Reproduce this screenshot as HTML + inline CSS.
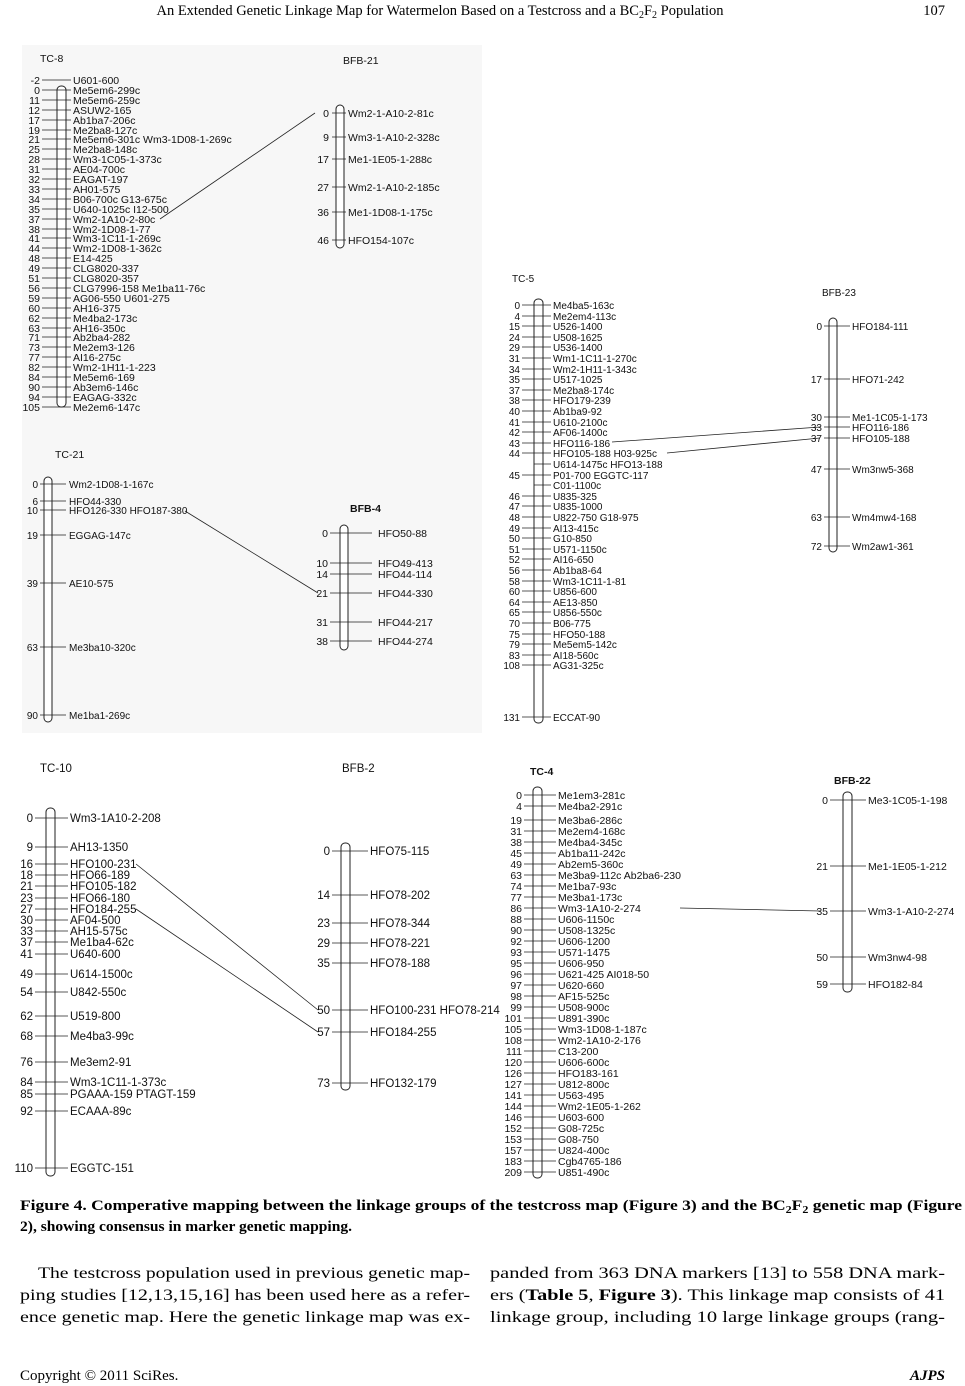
<!DOCTYPE html>
<html><head><meta charset="utf-8"><style>
html,body{margin:0;padding:0;background:#fff}
svg{display:block}
.m text{font-family:"Liberation Sans",Arial,sans-serif;font-size:10.5px;fill:#111}
.m .n{text-anchor:end}
.m path{stroke:#222;stroke-width:0.8;fill:none}
.m rect{fill:#fff;stroke:#222;stroke-width:1}
.big text{font-size:11.5px}
.s text{font-size:10px}
.ser{font-family:"Liberation Serif","Times New Roman",serif;fill:#000}
</style></head><body>
<svg width="965" height="1386" viewBox="0 0 965 1386" xmlns="http://www.w3.org/2000/svg">
<rect x="22" y="45" width="460" height="688" fill="#f7f7f7"/>
<text class="ser" x="440" y="15" font-size="14.5" text-anchor="middle">An Extended Genetic Linkage Map for Watermelon Based on a Testcross and a BC<tspan font-size="10" dy="3">2</tspan><tspan dy="-3">F</tspan><tspan font-size="10" dy="3">2</tspan><tspan dy="-3"> Population</tspan></text>
<text class="ser" x="945" y="15" font-size="14.5" text-anchor="end">107</text>

<!-- TC-8 -->
<g class="m">
<text x="40" y="62">TC-8</text>
<rect x="57" y="86" width="9" height="321" rx="4"/>
<path d="M42 80H71M42 90H71M42 100H71M42 110H71M42 120H71M42 130H71M42 139H71M42 149H71M42 159H71M42 169H71M42 179H71M42 189H71M42 199H71M42 209H71M42 219H71M42 229H71M42 238H71M42 248H71M42 258H71M42 268H71M42 278H71M42 288H71M42 298H71M42 308H71M42 318H71M42 328H71M42 337H71M42 347H71M42 357H71M42 367H71M42 377H71M42 387H71M42 397H71M42 407H71"/>
<g class="n"><text x="40" y="84">-2</text><text x="40" y="94">0</text><text x="40" y="104">11</text><text x="40" y="114">12</text><text x="40" y="124">17</text><text x="40" y="134">19</text><text x="40" y="143">21</text><text x="40" y="153">25</text><text x="40" y="163">28</text><text x="40" y="173">31</text><text x="40" y="183">32</text><text x="40" y="193">33</text><text x="40" y="203">34</text><text x="40" y="213">35</text><text x="40" y="223">37</text><text x="40" y="233">38</text><text x="40" y="242">41</text><text x="40" y="252">44</text><text x="40" y="262">48</text><text x="40" y="272">49</text><text x="40" y="282">51</text><text x="40" y="292">56</text><text x="40" y="302">59</text><text x="40" y="312">60</text><text x="40" y="322">62</text><text x="40" y="332">63</text><text x="40" y="341">71</text><text x="40" y="351">73</text><text x="40" y="361">77</text><text x="40" y="371">82</text><text x="40" y="381">84</text><text x="40" y="391">90</text><text x="40" y="401">94</text><text x="40" y="411">105</text></g>
<text x="73" y="84">U601-600</text><text x="73" y="94">Me5em6-299c</text><text x="73" y="104">Me5em6-259c</text><text x="73" y="114">ASUW2-165</text><text x="73" y="124">Ab1ba7-206c</text><text x="73" y="134">Me2ba8-127c</text><text x="73" y="143">Me5em6-301c Wm3-1D08-1-269c</text><text x="73" y="153">Me2ba8-148c</text><text x="73" y="163">Wm3-1C05-1-373c</text><text x="73" y="173">AE04-700c</text><text x="73" y="183">EAGAT-197</text><text x="73" y="193">AH01-575</text><text x="73" y="203">B06-700c G13-675c</text><text x="73" y="213">U640-1025c I12-500</text><text x="73" y="223">Wm2-1A10-2-80c</text><text x="73" y="233">Wm2-1D08-1-77</text><text x="73" y="242">Wm3-1C11-1-269c</text><text x="73" y="252">Wm2-1D08-1-362c</text><text x="73" y="262">E14-425</text><text x="73" y="272">CLG8020-337</text><text x="73" y="282">CLG8020-357</text><text x="73" y="292">CLG7996-158 Me1ba11-76c</text><text x="73" y="302">AG06-550 U601-275</text><text x="73" y="312">AH16-375</text><text x="73" y="322">Me4ba2-173c</text><text x="73" y="332">AH16-350c</text><text x="73" y="341">Ab2ba4-282</text><text x="73" y="351">Me2em3-126</text><text x="73" y="361">AI16-275c</text><text x="73" y="371">Wm2-1H11-1-223</text><text x="73" y="381">Me5em6-169</text><text x="73" y="391">Ab3em6-146c</text><text x="73" y="401">EAGAG-332c</text><text x="73" y="411">Me2em6-147c</text>
</g>

<!-- BFB-21 -->
<g class="m">
<text x="343" y="64">BFB-21</text>
<rect x="336" y="105" width="8" height="143" rx="4"/>
<path d="M332 113H346M332 137H346M332 159H346M332 187H346M332 212H346M332 240H346"/>
<g class="n"><text x="329" y="117">0</text><text x="329" y="141">9</text><text x="329" y="163">17</text><text x="329" y="191">27</text><text x="329" y="216">36</text><text x="329" y="244">46</text></g>
<text x="348" y="117">Wm2-1-A10-2-81c</text><text x="348" y="141">Wm3-1-A10-2-328c</text><text x="348" y="163">Me1-1E05-1-288c</text><text x="348" y="191">Wm2-1-A10-2-185c</text><text x="348" y="216">Me1-1D08-1-175c</text><text x="348" y="244">HFO154-107c</text>
<path d="M160 219L315 113"/>
</g>

<!-- TC-21 -->
<g class="m">
<text x="55" y="458">TC-21</text>
<rect x="44" y="477" width="8" height="245" rx="4"/>
<path d="M40 484H66M40 501H66M40 510H66M40 535H66M40 583H66M40 647H66M40 715H66"/>
<g class="n s"><text x="38" y="488">0</text><text x="38" y="505">6</text><text x="38" y="514">10</text><text x="38" y="539">19</text><text x="38" y="587">39</text><text x="38" y="651">63</text><text x="38" y="719">90</text></g>
<g class="s"><text x="69" y="488">Wm2-1D08-1-167c</text><text x="69" y="505">HFO44-330</text><text x="69" y="514">HFO126-330 HFO187-380</text><text x="69" y="539">EGGAG-147c</text><text x="69" y="587">AE10-575</text><text x="69" y="651">Me3ba10-320c</text><text x="69" y="719">Me1ba1-269c</text></g>
<path d="M185 511L318 593"/>
</g>

<!-- BFB-4 -->
<g class="m">
<text x="350" y="512" font-weight="bold">BFB-4</text>
<rect x="340" y="525" width="8" height="125" rx="4"/>
<path d="M330 533H372M330 563H372M330 574H372M330 593H372M330 622H372M330 641H372"/>
<g class="n"><text x="328" y="537">0</text><text x="328" y="567">10</text><text x="328" y="578">14</text><text x="328" y="597">21</text><text x="328" y="626">31</text><text x="328" y="645">38</text></g>
<text x="378" y="537">HFO50-88</text><text x="378" y="567">HFO49-413</text><text x="378" y="578">HFO44-114</text><text x="378" y="597">HFO44-330</text><text x="378" y="626">HFO44-217</text><text x="378" y="645">HFO44-274</text>
</g>

<!-- TC-5 -->
<g class="m s">
<text x="512" y="282">TC-5</text>
<rect x="534" y="299" width="9" height="424" rx="4"/>
<path d="M522 305H551M522 316H551M522 326H551M522 337H551M522 347H551M522 358H551M522 369H551M522 379H551M522 390H551M522 400H551M522 411H551M522 422H551M522 432H551M522 443H551M522 453H551M534 464H551M522 475H551M534 485H551M522 496H551M522 506H551M522 517H551M522 528H551M522 538H551M522 549H551M522 559H551M522 570H551M522 581H551M522 591H551M522 602H551M522 612H551M522 623H551M522 634H551M522 644H551M522 655H551M522 665H551M522 717H551"/>
<g class="n"><text x="520" y="309">0</text><text x="520" y="320">4</text><text x="520" y="330">15</text><text x="520" y="341">24</text><text x="520" y="351">29</text><text x="520" y="362">31</text><text x="520" y="373">34</text><text x="520" y="383">35</text><text x="520" y="394">37</text><text x="520" y="404">38</text><text x="520" y="415">40</text><text x="520" y="426">41</text><text x="520" y="436">42</text><text x="520" y="447">43</text><text x="520" y="457">44</text><text x="520" y="479">45</text><text x="520" y="500">46</text><text x="520" y="510">47</text><text x="520" y="521">48</text><text x="520" y="532">49</text><text x="520" y="542">50</text><text x="520" y="553">51</text><text x="520" y="563">52</text><text x="520" y="574">56</text><text x="520" y="585">58</text><text x="520" y="595">60</text><text x="520" y="606">64</text><text x="520" y="616">65</text><text x="520" y="627">70</text><text x="520" y="638">75</text><text x="520" y="648">79</text><text x="520" y="659">83</text><text x="520" y="669">108</text><text x="520" y="721">131</text></g>
<text x="553" y="309">Me4ba5-163c</text><text x="553" y="320">Me2em4-113c</text><text x="553" y="330">U526-1400</text><text x="553" y="341">U508-1625</text><text x="553" y="351">U536-1400</text><text x="553" y="362">Wm1-1C11-1-270c</text><text x="553" y="373">Wm2-1H11-1-343c</text><text x="553" y="383">U517-1025</text><text x="553" y="394">Me2ba8-174c</text><text x="553" y="404">HFO179-239</text><text x="553" y="415">Ab1ba9-92</text><text x="553" y="426">U610-2100c</text><text x="553" y="436">AF06-1400c</text><text x="553" y="447">HFO116-186</text><text x="553" y="457">HFO105-188 H03-925c</text><text x="553" y="468">U614-1475c HFO13-188</text><text x="553" y="479">P01-700 EGGTC-117</text><text x="553" y="489">C01-1100c</text><text x="553" y="500">U835-325</text><text x="553" y="510">U835-1000</text><text x="553" y="521">U822-750 G18-975</text><text x="553" y="532">AI13-415c</text><text x="553" y="542">G10-850</text><text x="553" y="553">U571-1150c</text><text x="553" y="563">AI16-650</text><text x="553" y="574">Ab1ba8-64</text><text x="553" y="585">Wm3-1C11-1-81</text><text x="553" y="595">U856-600</text><text x="553" y="606">AE13-850</text><text x="553" y="616">U856-550c</text><text x="553" y="627">B06-775</text><text x="553" y="638">HFO50-188</text><text x="553" y="648">Me5em5-142c</text><text x="553" y="659">AI18-560c</text><text x="553" y="669">AG31-325c</text><text x="553" y="721">ECCAT-90</text>
<path d="M612 442L820 427M667 453L820 438"/>
</g>

<!-- BFB-23 -->
<g class="m s">
<text x="822" y="296">BFB-23</text>
<rect x="829" y="318" width="8" height="234" rx="4"/>
<path d="M824 326H850M824 379H850M824 417H850M824 427H850M824 438H850M824 469H850M824 517H850M824 546H850"/>
<g class="n"><text x="822" y="330">0</text><text x="822" y="383">17</text><text x="822" y="421">30</text><text x="822" y="431">33</text><text x="822" y="442">37</text><text x="822" y="473">47</text><text x="822" y="521">63</text><text x="822" y="550">72</text></g>
<text x="852" y="330">HFO184-111</text><text x="852" y="383">HFO71-242</text><text x="852" y="421">Me1-1C05-1-173</text><text x="852" y="431">HFO116-186</text><text x="852" y="442">HFO105-188</text><text x="852" y="473">Wm3nw5-368</text><text x="852" y="521">Wm4mw4-168</text><text x="852" y="550">Wm2aw1-361</text>
</g>

<!-- TC-10 -->
<g class="m big">
<text x="40" y="772">TC-10</text>
<rect x="46" y="808" width="9" height="368" rx="4"/>
<path d="M35 818H68M35 847H68M35 864H68M35 875H68M35 886H68M35 898H68M35 909H68M35 920H68M35 931H68M35 942H68M35 954H68M35 974H68M35 992H68M35 1016H68M35 1036H68M35 1062H68M35 1082H68M35 1094H68M35 1111H68M35 1168H68"/>
<g class="n"><text x="33" y="822">0</text><text x="33" y="851">9</text><text x="33" y="868">16</text><text x="33" y="879">18</text><text x="33" y="890">21</text><text x="33" y="902">23</text><text x="33" y="913">27</text><text x="33" y="924">30</text><text x="33" y="935">33</text><text x="33" y="946">37</text><text x="33" y="958">41</text><text x="33" y="978">49</text><text x="33" y="996">54</text><text x="33" y="1020">62</text><text x="33" y="1040">68</text><text x="33" y="1066">76</text><text x="33" y="1086">84</text><text x="33" y="1098">85</text><text x="33" y="1115">92</text><text x="33" y="1172">110</text></g>
<text x="70" y="822">Wm3-1A10-2-208</text><text x="70" y="851">AH13-1350</text><text x="70" y="868">HFO100-231</text><text x="70" y="879">HFO66-189</text><text x="70" y="890">HFO105-182</text><text x="70" y="902">HFO66-180</text><text x="70" y="913">HFO184-255</text><text x="70" y="924">AF04-500</text><text x="70" y="935">AH15-575c</text><text x="70" y="946">Me1ba4-62c</text><text x="70" y="958">U640-600</text><text x="70" y="978">U614-1500c</text><text x="70" y="996">U842-550c</text><text x="70" y="1020">U519-800</text><text x="70" y="1040">Me4ba3-99c</text><text x="70" y="1066">Me3em2-91</text><text x="70" y="1086">Wm3-1C11-1-373c</text><text x="70" y="1098">PGAAA-159 PTAGT-159</text><text x="70" y="1115">ECAAA-89c</text><text x="70" y="1172">EGGTC-151</text>
<path d="M136 864L318 1010M136 909L318 1032"/>
</g>

<!-- BFB-2 -->
<g class="m big">
<text x="342" y="772">BFB-2</text>
<rect x="341" y="843" width="9" height="247" rx="4"/>
<path d="M332 851H368M332 895H368M332 923H368M332 943H368M332 963H368M332 1010H368M332 1032H368M332 1083H368"/>
<g class="n"><text x="330" y="855">0</text><text x="330" y="899">14</text><text x="330" y="927">23</text><text x="330" y="947">29</text><text x="330" y="967">35</text><text x="330" y="1014">50</text><text x="330" y="1036">57</text><text x="330" y="1087">73</text></g>
<text x="370" y="855">HFO75-115</text><text x="370" y="899">HFO78-202</text><text x="370" y="927">HFO78-344</text><text x="370" y="947">HFO78-221</text><text x="370" y="967">HFO78-188</text><text x="370" y="1014">HFO100-231 HFO78-214</text><text x="370" y="1036">HFO184-255</text><text x="370" y="1087">HFO132-179</text>
</g>

<!-- TC-4 -->
<g class="m">
<text x="530" y="775" font-weight="bold">TC-4</text>
<rect x="533" y="787" width="9" height="391" rx="4"/>
<path d="M524 795H556M524 806H556M524 820H556M524 831H556M524 842H556M524 853H556M524 864H556M524 875H556M524 886H556M524 897H556M524 908H556M524 919H556M524 930H556M524 941H556M524 952H556M524 963H556M524 974H556M524 985H556M524 996H556M524 1007H556M524 1018H556M524 1029H556M524 1040H556M524 1051H556M524 1062H556M524 1073H556M524 1084H556M524 1095H556M524 1106H556M524 1117H556M524 1128H556M524 1139H556M524 1150H556M524 1161H556M524 1172H556"/>
<g class="n"><text x="522" y="799">0</text><text x="522" y="810">4</text><text x="522" y="824">19</text><text x="522" y="835">31</text><text x="522" y="846">38</text><text x="522" y="857">45</text><text x="522" y="868">49</text><text x="522" y="879">63</text><text x="522" y="890">74</text><text x="522" y="901">77</text><text x="522" y="912">86</text><text x="522" y="923">88</text><text x="522" y="934">90</text><text x="522" y="945">92</text><text x="522" y="956">93</text><text x="522" y="967">95</text><text x="522" y="978">96</text><text x="522" y="989">97</text><text x="522" y="1000">98</text><text x="522" y="1011">99</text><text x="522" y="1022">101</text><text x="522" y="1033">105</text><text x="522" y="1044">108</text><text x="522" y="1055">111</text><text x="522" y="1066">120</text><text x="522" y="1077">126</text><text x="522" y="1088">127</text><text x="522" y="1099">141</text><text x="522" y="1110">144</text><text x="522" y="1121">146</text><text x="522" y="1132">152</text><text x="522" y="1143">153</text><text x="522" y="1154">157</text><text x="522" y="1165">183</text><text x="522" y="1176">209</text></g>
<text x="558" y="799">Me1em3-281c</text><text x="558" y="810">Me4ba2-291c</text><text x="558" y="824">Me3ba6-286c</text><text x="558" y="835">Me2em4-168c</text><text x="558" y="846">Me4ba4-345c</text><text x="558" y="857">Ab1ba11-242c</text><text x="558" y="868">Ab2em5-360c</text><text x="558" y="879">Me3ba9-112c Ab2ba6-230</text><text x="558" y="890">Me1ba7-93c</text><text x="558" y="901">Me3ba1-173c</text><text x="558" y="912">Wm3-1A10-2-274</text><text x="558" y="923">U606-1150c</text><text x="558" y="934">U508-1325c</text><text x="558" y="945">U606-1200</text><text x="558" y="956">U571-1475</text><text x="558" y="967">U606-950</text><text x="558" y="978">U621-425 AI018-50</text><text x="558" y="989">U620-660</text><text x="558" y="1000">AF15-525c</text><text x="558" y="1011">U508-900c</text><text x="558" y="1022">U891-390c</text><text x="558" y="1033">Wm3-1D08-1-187c</text><text x="558" y="1044">Wm2-1A10-2-176</text><text x="558" y="1055">C13-200</text><text x="558" y="1066">U606-600c</text><text x="558" y="1077">HFO183-161</text><text x="558" y="1088">U812-800c</text><text x="558" y="1099">U563-495</text><text x="558" y="1110">Wm2-1E05-1-262</text><text x="558" y="1121">U603-600</text><text x="558" y="1132">G08-725c</text><text x="558" y="1143">G08-750</text><text x="558" y="1154">U824-400c</text><text x="558" y="1165">Cgb4765-186</text><text x="558" y="1176">U851-490c</text>
<path d="M680 908L820 911"/>
</g>

<!-- BFB-22 -->
<g class="m">
<text x="834" y="784" font-weight="bold">BFB-22</text>
<rect x="843" y="792" width="9" height="200" rx="4"/>
<path d="M830 800H866M830 866H866M830 911H866M830 957H866M830 984H866"/>
<g class="n"><text x="828" y="804">0</text><text x="828" y="870">21</text><text x="828" y="915">35</text><text x="828" y="961">50</text><text x="828" y="988">59</text></g>
<text x="868" y="804">Me3-1C05-1-198</text><text x="868" y="870">Me1-1E05-1-212</text><text x="868" y="915">Wm3-1-A10-2-274</text><text x="868" y="961">Wm3nw4-98</text><text x="868" y="988">HFO182-84</text>
</g>

<!-- caption & body -->
<g class="ser" font-size="14.5">
<text x="20" y="1210" font-weight="bold" textLength="942" lengthAdjust="spacingAndGlyphs">Figure 4. Comperative mapping between the linkage groups of the testcross map (Figure 3) and the BC<tspan font-size="10" dy="3">2</tspan><tspan dy="-3">F</tspan><tspan font-size="10" dy="3">2</tspan><tspan dy="-3"> genetic map (Figure</tspan></text>
<text x="20" y="1231" font-weight="bold" textLength="332" lengthAdjust="spacingAndGlyphs">2), showing consensus in marker genetic mapping.</text>
<text x="38" y="1278" font-size="16" textLength="432" lengthAdjust="spacingAndGlyphs">The testcross population used in previous genetic map-</text>
<text x="20" y="1300" font-size="16" textLength="450" lengthAdjust="spacingAndGlyphs">ping studies [12,13,15,16] has been used here as a refer-</text>
<text x="20" y="1322" font-size="16" textLength="450" lengthAdjust="spacingAndGlyphs">ence genetic map. Here the genetic linkage map was ex-</text>
<text x="490" y="1278" font-size="16" textLength="455" lengthAdjust="spacingAndGlyphs">panded from 363 DNA markers [13] to 558 DNA mark-</text>
<text x="490" y="1300" font-size="16" textLength="455" lengthAdjust="spacingAndGlyphs">ers (<tspan font-weight="bold">Table 5</tspan>, <tspan font-weight="bold">Figure 3</tspan>). This linkage map consists of 41</text>
<text x="490" y="1322" font-size="16" textLength="455" lengthAdjust="spacingAndGlyphs">linkage group, including 10 large linkage groups (rang-</text>
<text x="20" y="1380" font-size="15">Copyright © 2011 SciRes.</text>
<text x="945" y="1380" font-size="15" font-weight="bold" font-style="italic" text-anchor="end">AJPS</text>
</g>
</svg>
</body></html>
